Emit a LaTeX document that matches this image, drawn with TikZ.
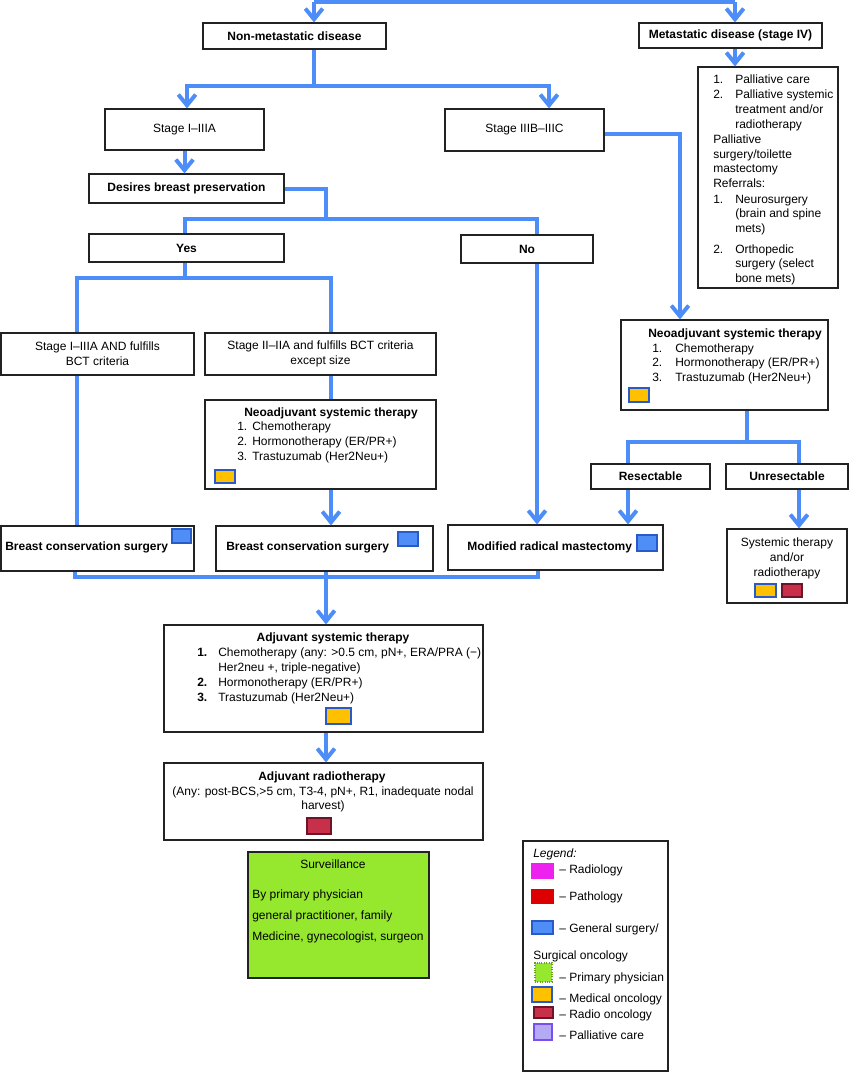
\documentclass[tikz,border=0pt]{standalone}
\usepackage{fontspec}
\setmainfont{Liberation Sans}
\usetikzlibrary{arrows.meta,fit,calc}
\definecolor{linec}{RGB}{77,141,247}
\definecolor{boxc}{RGB}{34,34,34}
\definecolor{swblue}{RGB}{79,142,247}
\definecolor{swblueb}{RGB}{40,90,200}
\definecolor{sworange}{RGB}{255,192,0}
\definecolor{swcrimson}{RGB}{200,48,74}
\definecolor{swcrimsonb}{RGB}{110,20,40}
\definecolor{swmagenta}{RGB}{238,34,238}
\definecolor{swred}{RGB}{221,0,0}
\definecolor{swgreen}{RGB}{150,232,46}
\definecolor{swlav}{RGB}{180,170,245}
\definecolor{swlavb}{RGB}{120,80,240}
\begin{document}
\begin{tikzpicture}[x=0.75pt,y=-0.75pt,
 every node/.style={font=\fontsize{9}{11}\selectfont},
 box/.style={draw=boxc, line width=0.9pt, inner sep=0pt},
 ctr/.style={inner sep=0pt, align=center},
 txt/.style={inner sep=0pt, anchor=base west},
 ctxt/.style={inner sep=0pt, anchor=base},
 conn/.style={draw=linec, line width=3pt},
 arr/.style={conn, -{Straight Barb[length=8pt,width=13pt]}},
 sw/.style={inner sep=0pt, line width=0.8pt},
]
\useasboundingbox (0,0) rectangle (850,1072);

% ---------- boxes ----------
\node[box, fit={(203,23)(386,49)}] (nonmet) {};
\node[box, fit={(639,23)(822,48)}] (meta) {};
\node[box, fit={(698,67)(838,288)}] (pall) {};
\node[box, fit={(105,109)(264,150)}] (s1) {};
\node[box, fit={(445,109)(604,151)}] (s3) {};
\node[box, fit={(89,174)(284,203)}] (des) {};
\node[box, fit={(89,234)(284,262)}] (yes) {};
\node[box, fit={(461,235)(593,263)}] (no) {};
\node[box, fit={(1,333)(194,375)}] (crit1) {};
\node[box, fit={(205,333)(436,375)}] (crit2) {};
\node[box, fit={(205,400)(436,489)}] (neo1) {};
\node[box, fit={(1,526)(194,571)}] (bcs1) {};
\node[box, fit={(216,526)(433,571)}] (bcs2) {};
\node[box, fit={(448,525)(663,570)}] (mrm) {};
\node[box, fit={(621,320)(828,410)}] (neo2) {};
\node[box, fit={(591,464)(710,489)}] (res) {};
\node[box, fit={(726,464)(848,489)}] (unres) {};
\node[box, fit={(727,529)(847,603)}] (sys) {};
\node[box, fit={(164,625)(483,732)}] (adj) {};
\node[box, fit={(164,763)(483,840)}] (rad) {};
\node[box, fit={(248,852)(429,978)}, fill=swgreen] (surv) {};
\node[box, fit={(523,841)(668,1071)}, line width=1.2pt] (leg) {};

% ---------- single-label texts ----------
\node[ctr] (nonmett) at (nonmet) {\bfseries Non-metastatic disease};
\node[ctr] (metat) at (meta) {\bfseries Metastatic disease (stage IV)};
\node[ctr] (s1t) at (s1) {Stage I–IIIA};
\node[ctr] (s3t) at (s3) {Stage IIIB–IIIC};
\node[ctr] (dest) at (des) {\bfseries Desires breast preservation};
\node[ctr] (yest) at (yes) {\bfseries Yes};
\node[ctr] (not) at (no) {\bfseries No};
\node[ctr] (crit1t) at (crit1) {Stage I–IIIA AND fulfills\\BCT criteria};
\node[ctr] (crit2t) at (crit2) {Stage II–IIA and fulfills BCT criteria\\except size};
\node[ctr] (rest) at (res) {\bfseries Resectable};
\node[ctr] (unrest) at (unres) {\bfseries Unresectable};

% ---------- palliative text ----------
\node[txt] (p1n) at (713,83) {1.};  \node[txt] (p1) at (735,83) {Palliative care};
\node[txt] (p2n) at (713,98) {2.};  \node[txt] (p2) at (735,98) {Palliative systemic};
\node[txt] (p3) at (735,113) {treatment and/or};
\node[txt] (p4) at (735,128) {radiotherapy};
\node[txt] (p5) at (713,143) {Palliative};
\node[txt] (p6) at (713,158) {surgery/toilette};
\node[txt] (p7) at (713,172) {mastectomy};
\node[txt] (p8) at (713,187) {Referrals:};
\node[txt] (p9n) at (713,203) {1.}; \node[txt] (p9) at (735,203) {Neurosurgery};
\node[txt] (p10) at (735,217) {(brain and spine};
\node[txt] (p11) at (735,232) {mets)};
\node[txt] (p12n) at (713,253) {2.}; \node[txt] (p12) at (735,253) {Orthopedic};
\node[txt] (p13) at (735,267) {surgery (select};
\node[txt] (p14) at (735,282) {bone mets)};

% ---------- neoadjuvant 1 ----------
\node[ctxt] (n1t) at (331,416) {\bfseries Neoadjuvant systemic therapy};
\node[txt] (n1a) at (237,430) {1.}; \node[txt] (n1ta) at (252,430) {Chemotherapy};
\node[txt] (n1b) at (237,445) {2.}; \node[txt] (n1tb) at (252,445) {Hormonotherapy (ER/PR+)};
\node[txt] (n1c) at (237,460) {3.}; \node[txt] (n1tc) at (252,460) {Trastuzumab (Her2Neu+)};
\node[sw, fill=sworange, draw=swblueb, fit={(215,470)(235,483)}] (o1) {};

% ---------- neoadjuvant 2 ----------
\node[ctxt] (n2t) at (735,337) {\bfseries Neoadjuvant systemic therapy};
\node[txt] (n2a) at (652,352) {1.}; \node[txt] (n2ta) at (675,352) {Chemotherapy};
\node[txt] (n2b) at (652,366) {2.}; \node[txt] (n2tb) at (675,366) {Hormonotherapy (ER/PR+)};
\node[txt] (n2c) at (652,381) {3.}; \node[txt] (n2tc) at (675,381) {Trastuzumab (Her2Neu+)};
\node[sw, fill=sworange, draw=swblueb, fit={(629,388)(649,402)}] (o2) {};

% ---------- surgery boxes ----------
\node[txt] (bcs1t) at (5,550) {\bfseries Breast conservation surgery};
\node[sw, fill=swblue, draw=swblueb, fit={(172,529)(191,543)}] (b1) {};
\node[txt] (bcs2t) at (226,550) {\bfseries Breast conservation surgery};
\node[sw, fill=swblue, draw=swblueb, fit={(398,532)(418,546)}] (b2) {};
\node[txt] (mrmt) at (467,550) {\bfseries Modified radical mastectomy};
\node[sw, fill=swblue, draw=swblueb, fit={(637,535)(657,551)}] (b3) {};

% ---------- systemic ----------
\node[ctxt] (sy1) at (787,546) {Systemic therapy};
\node[ctxt] (sy2) at (787,561) {and/or};
\node[ctxt] (sy3) at (787,576) {radiotherapy};
\node[sw, fill=sworange, draw=swblueb, fit={(755,584)(776,597)}] (o3) {};
\node[sw, fill=swcrimson, draw=swcrimsonb, fit={(782,584)(802,597)}] (c1) {};

% ---------- adjuvant ----------
\node[ctxt] (adt) at (333,641) {\bfseries Adjuvant systemic therapy};
\node[txt] (ada) at (197,656) {\bfseries 1.}; \node[txt] (adta) at (218,656) {Chemotherapy (any: >0.5 cm, pN+, ERA/PRA (−)};
\node[txt] (adta2) at (218,671) {Her2neu +, triple-negative)};
\node[txt] (adb) at (197,686) {\bfseries 2.}; \node[txt] (adtb) at (218,686) {Hormonotherapy (ER/PR+)};
\node[txt] (adc) at (197,701) {\bfseries 3.}; \node[txt] (adtc) at (218,701) {Trastuzumab (Her2Neu+)};
\node[sw, fill=sworange, draw=swblueb, fit={(326,708)(351,724)}] (o4) {};

\node[ctxt] (rdt) at (322,780) {\bfseries Adjuvant radiotherapy};
\node[ctxt] (rd1) at (323,795) {(Any: post-BCS,>5 cm, T3-4, pN+, R1, inadequate nodal};
\node[ctxt] (rd2) at (323,809) {harvest)};
\node[sw, fill=swcrimson, draw=swcrimsonb, fit={(307,818)(331,834)}] (c2) {};

% ---------- surveillance ----------
\node[ctxt] (sv0) at (333,868) {Surveillance};
\node[txt] (sv1) at (252,898) {By primary physician};
\node[txt] (sv2) at (252,919) {general practitioner, family};
\node[txt] (sv3) at (252,940) {Medicine, gynecologist, surgeon};

% ---------- legend ----------
\node[txt] (lg0) at (533,857) {\itshape Legend:};
\node[sw, fill=swmagenta, draw=swmagenta, fit={(532,864)(553,878)}] (l1) {};
\node[txt] (lt1) at (559,873) {– Radiology};
\node[sw, fill=swred, draw=swred, fit={(532,890)(553,903)}] (l2) {};
\node[txt] (lt2) at (559,900) {– Pathology};
\node[sw, fill=swblue, draw=swblueb, fit={(532,921)(553,934)}] (l3) {};
\node[txt] (lt3) at (559,932) {– General surgery/};
\node[txt] (lt3b) at (533,959) {Surgical oncology};
\node[sw, fill=swgreen, draw=swgreen!70!black, densely dotted, fit={(535,963)(552,982)}] (l4) {};
\node[txt] (lt4) at (559,981) {– Primary physician};
\node[sw, fill=sworange, draw=swblueb, fit={(532,987)(552,1002)}] (l5) {};
\node[txt] (lt5) at (559,1002) {– Medical oncology};
\node[sw, fill=swcrimson, draw=swcrimsonb, fit={(534,1007)(553,1018)}] (l6) {};
\node[txt] (lt6) at (559,1018) {– Radio oncology};
\node[sw, fill=swlav, draw=swlavb, line width=1.5pt, fit={(534,1024)(552,1040)}] (l7) {};
\node[txt] (lt7) at (559,1039) {– Palliative care};

% ---------- connectors ----------
\coordinate (t1) at (314,2);
\coordinate (t2) at (735,2);
\draw[conn] (t1) -- (t2);
\draw[arr] (t1) -- (t1 |- nonmet.north);
\draw[arr] (t2) -- (t2 |- meta.north);
\draw[arr] (t2 |- meta.south) -- (t2 |- pall.north);

\coordinate (b1c) at (314,86);
\coordinate (b1l) at (187,86);
\coordinate (b1r) at (549,86);
\draw[arr] (nonmet.south -| b1c) -- (b1c) -- (b1l) -- (b1l |- s1.north);
\draw[arr] (b1c) -- (b1r) -- (b1r |- s3.north);

\draw[arr] (s1.south) -- (s1.south |- des.north);

\coordinate (d2) at (326,219);
\coordinate (dy) at (185,219);
\coordinate (dn) at (537,219);
\draw[conn] (des.east) -| (d2);
\draw[conn] (dy |- yes.north) -- (dy) -- (dn) -- (dn |- no.north);

\coordinate (y1) at (185,278);
\coordinate (yl) at (77,278);
\coordinate (yr) at (331,278);
\draw[conn] (yes.south -| y1) -- (y1);
\draw[conn] (yl |- crit1.north) -- (yl) -- (yr) -- (yr |- crit2.north);
\draw[conn] (yl |- crit1.south) -- (yl |- bcs1.north);
\draw[conn] (yr |- crit2.south) -- (yr |- neo1.north);
\draw[arr] (yr |- neo1.south) -- (yr |- bcs2.north);
\draw[arr] (dn |- no.south) -- (dn |- mrm.north);

\coordinate (r1) at (680,134);
\draw[arr] (s3.east |- r1) -- (r1) -- (r1 |- neo2.north);

\coordinate (n2c) at (747,442);
\coordinate (n2l) at (628,442);
\coordinate (n2r) at (799,442);
\draw[conn] (neo2.south -| n2c) -- (n2c);
\draw[conn] (n2l |- res.north) -- (n2l) -- (n2r) -- (n2r |- unres.north);
\draw[arr] (n2l |- res.south) -- (n2l |- mrm.north);
\draw[arr] (n2r |- unres.south) -- (n2r |- sys.north);

\coordinate (m0) at (75,577);
\coordinate (m1) at (326,577);
\coordinate (m2) at (538,577);
\draw[conn] (m0 |- bcs1.south) -- (m0) -- (m2) -- (m2 |- mrm.south);
\draw[conn] (m1 |- bcs2.south) -- (m1);
\draw[arr] (m1) -- (m1 |- adj.north);
\draw[arr] (m1 |- adj.south) -- (m1 |- rad.north);
\end{tikzpicture}
\end{document}
